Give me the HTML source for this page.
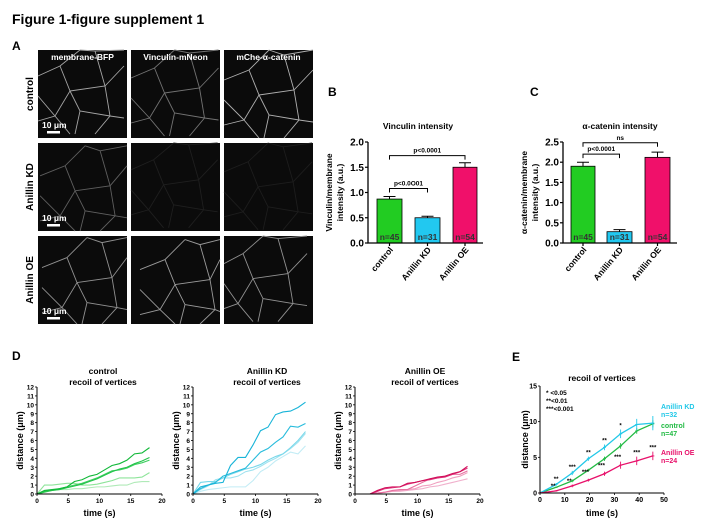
<!DOCTYPE html>
<html><head><meta charset="utf-8">
<style>
html,body{margin:0;padding:0;background:#fff;}
svg{display:block;font-family:"Liberation Sans",Arial,sans-serif;font-weight:bold;}
</style></head>
<body>
<svg id="fig" width="704" height="530" viewBox="0 0 704 530" xmlns="http://www.w3.org/2000/svg">
<text x="12" y="24" font-size="14">Figure 1-figure supplement 1</text>
<text x="12" y="50" font-size="12">A</text>
<text x="328" y="96" font-size="12">B</text>
<text x="530" y="96" font-size="12">C</text>
<text x="12" y="360" font-size="12">D</text>
<text x="512" y="361" font-size="12">E</text>
<g id="panelA"></g>
<g id="panelB"></g>
<g id="panelC"></g>
<g id="panelD"></g>
<g id="panelE"></g>
</svg>
<script>
// ===== Bar chart data =====
const barCategories = ["control","Anillin KD","Anillin OE"];
const barN = ["n=45","n=31","n=54"];
const vinculinValues = [0.87, 0.50, 1.50];
const vinculinErrors = [0.05, 0.03, 0.09];
const cateninValues = [1.90, 0.28, 2.12];
const cateninErrors = [0.10, 0.05, 0.13];
const vinculinTicks = ["0.0","0.5","1.0","1.5","2.0"];
const cateninTicks = ["0.0","0.5","1.0","1.5","2.0","2.5"];
// ===== Recoil traces data (panel D) =====
const traceTimes = [0,1.2,2.4,3.6,4.8,6,7.2,8.4,9.6,10.8,12,13.2,14.4,15.6,16.8,18];
const controlTraces = [
 [0,0.4,0.5,0.6,0.8,1.4,1.6,2.0,2.2,2.7,3.2,3.4,3.8,4.5,4.6,5.2],
 [0,0.3,0.4,0.5,0.7,0.9,1.1,1.4,1.7,2.1,2.5,2.8,3.0,3.4,3.7,4.1],
 [0,0.2,0.4,0.6,0.8,1.0,1.2,1.5,1.8,2.2,2.6,2.7,2.9,3.3,3.5,3.8],
 [0,1.0,1.0,1.1,1.2,1.2,1.0,1.0,1.1,1.3,1.5,1.8,1.8,1.8,1.9,2.4],
 [0,0.3,0.4,0.5,0.5,0.6,0.6,0.7,0.8,0.8,0.9,1.0,1.0,1.3,1.4,1.4]];
const kdTraces = [
 [0,0.8,1.0,1.2,1.3,3.2,4.1,4.1,5.5,7.1,7.5,8.9,9.2,9.3,9.7,10.3],
 [0,0.6,1.0,1.3,2.0,2.3,2.6,2.9,3.8,4.7,5.1,5.8,6.4,7.6,7.5,7.9],
 [0,1.3,1.4,1.4,1.8,2.2,2.5,2.8,3.0,3.3,3.8,4.2,4.5,5.2,6.0,7.0],
 [0,0.5,0.9,1.6,1.8,1.8,2.0,2.5,2.7,3.1,3.6,4.0,4.5,5.1,5.8,6.8],
 [0,0.3,0.5,0.6,0.7,0.8,0.8,0.8,1.5,2.5,3.0,3.7,4.2,4.7,4.5,5.4]];
const oeTraces = [
 [0,0,0,0.4,0.7,0.8,0.8,1.2,1.3,1.5,1.7,1.9,2.0,2.3,2.5,3.1],
 [0,0,0,0.3,0.6,0.7,0.8,1.1,1.3,1.5,1.6,1.8,1.9,2.2,2.5,2.9],
 [0,0,0,0.1,0.2,0.4,0.5,0.5,0.9,1.3,1.7,1.8,2.0,2.2,2.2,2.6],
 [0,0,0,0.1,0.2,0.3,0.4,0.5,0.6,0.9,1.0,1.3,1.5,1.8,2.0,2.4],
 [0,0,0,0.1,0.2,0.3,0.3,0.4,0.5,0.6,0.8,0.9,1.1,1.3,1.5,1.7]];
const traceYTicks = [0,1,2,3,4,5,6,7,8,9,10,11,12];
const traceXTicks = [0,5,10,15,20];
// ===== Mean recoil data (panel E) =====
const meanTimes = [0,6.5,13,19.5,26,32.5,39,45.5];
const meanKD = [0,1.2,2.8,4.8,6.4,8.3,9.6,9.8];
const errKD = [0,0.2,0.3,0.3,0.4,0.6,0.8,1.0];
const meanControl = [0,0.8,1.7,3.2,4.8,6.6,8.7,9.7];
const errControl = [0,0.1,0.2,0.2,0.3,0.4,0.4,0.5];
const meanOE = [0,0.3,1.0,1.8,2.7,3.9,4.5,5.2];
const errOE = [0,0.1,0.2,0.2,0.3,0.5,0.6,0.6];
const starsKD = ["","**","***","**","**","*","",""];
const starsOE = ["","**","**","***","***","***","***","***"];
const meanYTicks = [0,5,10,15];
const meanXTicks = [0,10,20,30,40,50];

const NS="http://www.w3.org/2000/svg";
function mk(tag, parent, attrs){const e=document.createElementNS(NS,tag);for(const k in attrs)e.setAttribute(k,attrs[k]);parent.appendChild(e);return e;}
function txt(parent, x, y, s, size, anchor, fill){const t=mk('text',parent,{x:x,y:y,'font-size':size,'text-anchor':anchor||'start',fill:fill||'#000'});t.textContent=s;return t;}

// ===== Panel A (micrographs) =====
(function(){
 const g=document.getElementById('panelA');
 const cols=[38,131,224], rows=[50,143,236], w=89, h=88;
 const heads=["membrane-BFP","Vinculin-mNeon","mChe-\u03b1-catenin"];
 const rowl=["control","Anillin KD","Anillin OE"];
 const bright=[[0.7,0.45,0.75],[0.35,0.03,0.02],[0.6,0.65,0.6]];
 const net=[[[0,30],[25,20],[45,0]],[[25,20],[35,45],[20,70],[0,75]],[[35,45],[70,40],[89,20]],[[70,40],[75,70],[60,88]],[[20,70],[35,88]],[[75,70],[89,72]],[[45,0],[60,5],[89,0]],[[0,50],[20,70]],[[60,5],[70,40]],[[35,45],[45,65],[75,70]],[[45,65],[40,88]]];
 rows.forEach((y,r)=>{cols.forEach((x,c)=>{
  const im=mk('g',g,{});
  
  
  mk('rect',im,{x:x,y:y,width:w,height:h,fill:'#0b0b0b'});
  const b=bright[r][c]; const v=Math.round(25+200*b);
  const off=(r*17+c*5)%20-10;
  net.forEach(seg=>{mk('polyline',im,{points:seg.map(p=>(x+Math.min(w,Math.max(0,p[0]+off*(r===2?1:0.3))))+','+(y+Math.min(h,Math.max(0,p[1]+off*0.4)))).join(' '),fill:'none',stroke:`rgb(${v},${v},${v})`,'stroke-width':0.9});});
  if(r===0){const t=txt(g,x+w/2,y+10,heads[c],8.5,'middle','#fff');}
  if(c===0){
   const t=txt(g,x+4,y+h-10,'10 \u03bcm',8.5,'start','#fff');
   const sb=mk('rect',g,{x:x+9,y:y+h-7,width:13,height:2.5,fill:'#fff'});
   const rl=txt(g,0,0,rowl[r],10,'middle');rl.setAttribute('transform',`translate(33,${y+h/2}) rotate(-90)`);
  }
 });});
})();

// ===== Bar charts =====
function barChart(gid, axX, axXEnd, yMax, ticks, ytitle1, title, titleX, bars, vals, errs, sig){
 const g=document.getElementById(gid);
 const y0=243, yTop=142;
 const ys=v=>y0-(v/yMax)*(y0-yTop);
 const colors=['#22cc22','#22c8f0','#f0106a'];
 const t=txt(g,titleX,129,title,8.5,'middle');
 vals.forEach((v,i)=>{
  const b=mk('rect',g,{x:bars[i][0],y:ys(v),width:bars[i][1]-bars[i][0],height:y0-ys(v),fill:colors[i],stroke:'#000','stroke-width':0.8});
  
  const cx=(bars[i][0]+bars[i][1])/2;
  const e=mk('path',g,{d:`M${cx},${ys(v)}V${ys(v+errs[i])}M${cx-6},${ys(v+errs[i])}H${cx+6}`,stroke:'#000','stroke-width':1,fill:'none'});
  
  const n=txt(g,cx,y0-3,barN[i],8.5,'middle','#333');
  const cl=txt(g,0,0,barCategories[i],8.5,'end');cl.setAttribute('transform',`translate(${cx+4},${y0+7}) rotate(-50)`);
 });
 const ax=mk('path',g,{d:`M${axX},${yTop}V${y0}H${axXEnd}`,stroke:'#000','stroke-width':1.3,fill:'none'});
 
 ticks.forEach((s,i)=>{const v=parseFloat(s);const y=ys(v);
  mk('line',g,{x1:axX-3,x2:axX,y1:y,y2:y,stroke:'#000','stroke-width':1.2});
  const tl=txt(g,axX-4,y+3.5,s,10,'end');});
 bars.forEach(b=>{const cx=(b[0]+b[1])/2;mk('line',g,{x1:cx,x2:cx,y1:y0,y2:y0+3,stroke:'#000','stroke-width':1.2});});
 const yt=mk('text',g,{'font-size':8.5,'text-anchor':'middle',transform:`translate(${axX-36},${(y0+yTop)/2}) rotate(-90)`});
 
 mk('tspan',yt,{x:0,dy:0}).textContent=ytitle1;
 mk('tspan',yt,{x:0,dy:11}).textContent='intensity (a.u.)';
 sig.forEach(s=>{const x1=(bars[s.a][0]+bars[s.a][1])/2,x2=(bars[s.b][0]+bars[s.b][1])/2,y=ys(s.y);
  const p=mk('path',g,{d:`M${x1},${y+4}V${y}H${x2}V${y+4}`,stroke:'#000','stroke-width':1,fill:'none'});
  const l=txt(g,(x1+x2)/2,y-3,s.label,6.5,'middle');});
}
barChart('panelB',368,483,2.0,vinculinTicks,'Vinculin/membrane','Vinculin intensity',418,[[377,402],[415,440],[453,477]],vinculinValues,vinculinErrors,[{a:0,b:2,y:1.73,label:'p<0.0001'},{a:0,b:1,y:1.08,label:'p<0.0O01'}]);
barChart('panelC',563,677,2.5,cateninTicks,'\u03b1-catenin/membrane','\u03b1-catenin intensity',620,[[571,595],[607,632],[645,670]],cateninValues,cateninErrors,[{a:0,b:2,y:2.48,label:'ns'},{a:0,b:1,y:2.2,label:'p<0.0001'}]);

// ===== Panel D =====
function traceChart(axX, axXEnd, title, titleX, traces, shades){
 const g=document.getElementById('panelD');
 const y0=494, yTop=387;
 const xs=v=>axX+v/20*(axXEnd-axX), ys=v=>y0-v/12*(y0-yTop);
 const t1=txt(g,titleX,374,title,8.5,'middle');
 const t2=txt(g,titleX,385,'recoil of vertices',8.5,'middle');
 traces.slice().reverse().forEach((tr,ri)=>{const i=traces.length-1-ri;
  const p=mk('polyline',g,{points:tr.map((v,j)=>xs(traceTimes[j])+','+ys(v)).join(' '),fill:'none',stroke:shades[i],'stroke-width':1.1});
  });
 const ax=mk('path',g,{d:`M${axX},${yTop}V${y0}H${axXEnd}`,stroke:'#000','stroke-width':1,fill:'none'});
 traceYTicks.forEach(v=>{mk('line',g,{x1:axX-2,x2:axX,y1:ys(v),y2:ys(v),stroke:'#000','stroke-width':0.8});
  const l=txt(g,axX-3,ys(v)+2.5,String(v),6.5,'end');});
 traceXTicks.forEach(v=>{mk('line',g,{x1:xs(v),x2:xs(v),y1:y0,y2:y0+2,stroke:'#000','stroke-width':0.8});
  const l=txt(g,xs(v),y0+9,String(v),6.5,'middle');});
 const xt=txt(g,(axX+axXEnd)/2,516,'time (s)',9,'middle');
 const yt=txt(g,0,0,'distance (\u03bcm)',9,'middle');yt.setAttribute('transform',`translate(${axX-14},${(y0+yTop)/2}) rotate(-90)`);
}
traceChart(37,162,'control',103,controlTraces,['#10b838','#22c44a','#3fcf60','#8ee49a','#b0eab8']);
traceChart(193,318,'Anillin KD',267,kdTraces,['#18b4d8','#28bcdc','#7ad8ea','#9fe2ef','#c2ecf5']);
traceChart(355,480,'Anillin OE',425,oeTraces,['#d0105a','#e0307a','#e870a0','#f0a0c0','#f0b0cc']);

// ===== Panel E =====
(function(){
 const g=document.getElementById('panelE');
 const axX=540, axXEnd=664, y0=493, yTop=386;
 const xs=v=>axX+v/50*(axXEnd-axX), ys=v=>y0-v/15*(y0-yTop);
 const t=txt(g,602,381,'recoil of vertices',8.5,'middle');
 const series=[['control',meanControl,errControl,'#22bb44'],['anillin-kd',meanKD,errKD,'#22c8e8'],['anillin-oe',meanOE,errOE,'#e8106a']];
 series.forEach(s=>{
  const p=mk('polyline',g,{points:s[1].map((v,j)=>xs(meanTimes[j])+','+ys(v)).join(' '),fill:'none',stroke:s[3],'stroke-width':1.3});
  
  s[1].forEach((v,j)=>{const x=xs(meanTimes[j]);
   const e=mk('path',g,{d:`M${x},${ys(v-s[2][j])}V${ys(v+s[2][j])}M${x-1.5},${ys(v)}H${x+1.5}`,stroke:s[3],'stroke-width':0.9});
   });
 });
 starsKD.forEach((s,j)=>{if(!s)return;const l=txt(g,xs(meanTimes[j]),ys(meanKD[j]+errKD[j])-2,s,6,'middle');});
 starsOE.forEach((s,j)=>{if(!s)return;const v=j>=6?meanOE[j]+errOE[j]+0.3:meanOE[j]-errOE[j]-0.2;const l=txt(g,xs(meanTimes[j])+(j<6?-3:0),j>=6?ys(v):ys(meanOE[j])+(j<3?-3:-6),s,6,'middle');});
 const ax=mk('path',g,{d:`M${axX},${yTop}V${y0}H${axXEnd}`,stroke:'#000','stroke-width':1,fill:'none'});
 meanYTicks.forEach(v=>{mk('line',g,{x1:axX-2,x2:axX,y1:ys(v),y2:ys(v),stroke:'#000','stroke-width':0.8});
  const l=txt(g,axX-3,ys(v)+2.5,String(v),7,'end');});
 meanXTicks.forEach(v=>{mk('line',g,{x1:xs(v),x2:xs(v),y1:y0,y2:y0+2,stroke:'#000','stroke-width':0.8});
  const l=txt(g,xs(v),y0+9,String(v),7,'middle');});
 const xt=txt(g,602,516,'time (s)',9,'middle');
 const yt=txt(g,0,0,'distance (\u03bcm)',9,'middle');yt.setAttribute('transform',`translate(528,${(y0+yTop)/2}) rotate(-90)`);
 [['* <0.05',395],['**<0.01',403],['***<0.001',411]].forEach(a=>{const l=txt(g,546,a[1],a[0],6.5,'start');});
 [['Anillin KD',409,'#22c8e8'],['n=32',417,'#22c8e8'],['control',428,'#22bb44'],['n=47',436,'#22bb44'],['Anillin OE',455,'#e8106a'],['n=24',463,'#e8106a']].forEach(a=>{const l=txt(g,661,a[1],a[0],7,'start',a[2]);});
})();
</script>
</body></html>
